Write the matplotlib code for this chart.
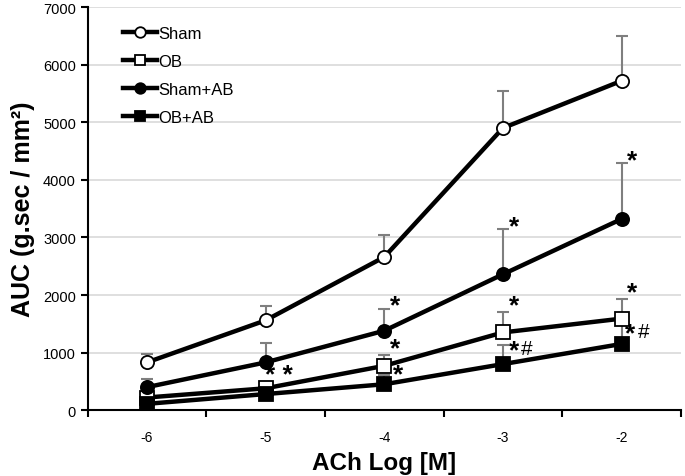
import numpy as np
import matplotlib
matplotlib.use("Agg")
import matplotlib.pyplot as plt

# dose categories (log M)
doses = ["-6", "-5", "-4", "-3", "-2"]

sham = [830, 1560, 2660, 4900, 5720]
sham_err = [140, 250, 390, 640, 770]
ob = [220, 380, 770, 1350, 1590]
ob_err = [60, 80, 180, 350, 340]
sham_ab = [400, 830, 1380, 2360, 3320]
sham_ab_err = [140, 330, 370, 790, 980]
ob_ab = [110, 280, 450, 800, 1150]
ob_ab_err = [40, 60, 160, 330, 380]

# significance marks: (category index + offset, y value, text)
marks = [
    (1.11, 610, "* *"),
    (2.09, 1820, "*"), (2.09, 1070, "*"), (2.12, 620, "*"),
    (3.09, 3190, "*"), (3.09, 1820, "*"), (3.09, 1040, "*"),
    (4.09, 4340, "*"), (4.09, 2050, "*"), (4.07, 1330, "*"),
]
hash_marks = [(3.20, 1070, "#"), (4.19, 1360, "#")]

plt.rcParams['font.family'] = ['Liberation Sans', 'DejaVu Sans']

fig = plt.figure(figsize=(6.85, 4.77), dpi=100)
ax = fig.add_axes([0.128, 0.138, 0.866, 0.845])

x = np.arange(len(doses)) + 0.5

series = [
    ("Sham", sham, sham_err, "o", "white"),
    ("OB", ob, ob_err, "s", "white"),
    ("Sham+AB", sham_ab, sham_ab_err, "o", "black"),
    ("OB+AB", ob_ab, ob_ab_err, "s", "black"),
]

for name, vals, err, mk, fc in series:
    ax.errorbar(x, vals, yerr=[np.zeros(len(err)), err], fmt="none",
                ecolor="#7f7f7f", elinewidth=1.5, capsize=4, capthick=1.5, zorder=2)
    ax.plot(x, vals, color="black", lw=3.2, marker=mk, markersize=9.5,
            markerfacecolor=fc, markeredgecolor="black", markeredgewidth=1.3,
            label=name, zorder=3)

for xi, yi, t in marks:
    ax.text(xi + 0.5, yi, t, fontsize=19, fontweight="bold", ha="center", va="center", zorder=4)
for xi, yi, t in hash_marks:
    ax.text(xi + 0.5, yi, t, fontsize=15, ha="center", va="center", zorder=4)

ax.set_xlim(0, len(doses))
ax.set_ylim(0, 7000)
ax.set_yticks(range(0, 7001, 1000))
ax.set_xticks(np.arange(len(doses) + 1))
ax.set_xticklabels([])
ax.set_xticks(x, minor=True)
ax.set_xticklabels(doses, minor=True)
ax.tick_params(axis="x", which="minor", length=0, pad=14, labelsize=10)
ax.tick_params(axis="x", which="major", length=5, width=1.5, direction="out")
ax.tick_params(axis="y", length=5, width=1.5, direction="out", labelsize=10.5)

ax.grid(axis="y", color="#d9d9d9", lw=1.2)
ax.set_axisbelow(True)
for s in ["top", "right"]:
    ax.spines[s].set_visible(False)
ax.spines["left"].set_linewidth(1.5)
ax.spines["bottom"].set_linewidth(1.5)

ax.set_xlabel("ACh Log [M]", fontsize=17.5, fontweight="bold", labelpad=5)
ax.set_ylabel("AUC (g.sec / mm²)", fontsize=18, fontweight="bold", labelpad=6)

ax.legend(loc="upper left", bbox_to_anchor=(0.035, 0.99), frameon=False, fontsize=12,
          handlelength=2.0, handletextpad=0.1, labelspacing=0.78, markerscale=0.8)

fig.savefig("out.png", dpi=100)
